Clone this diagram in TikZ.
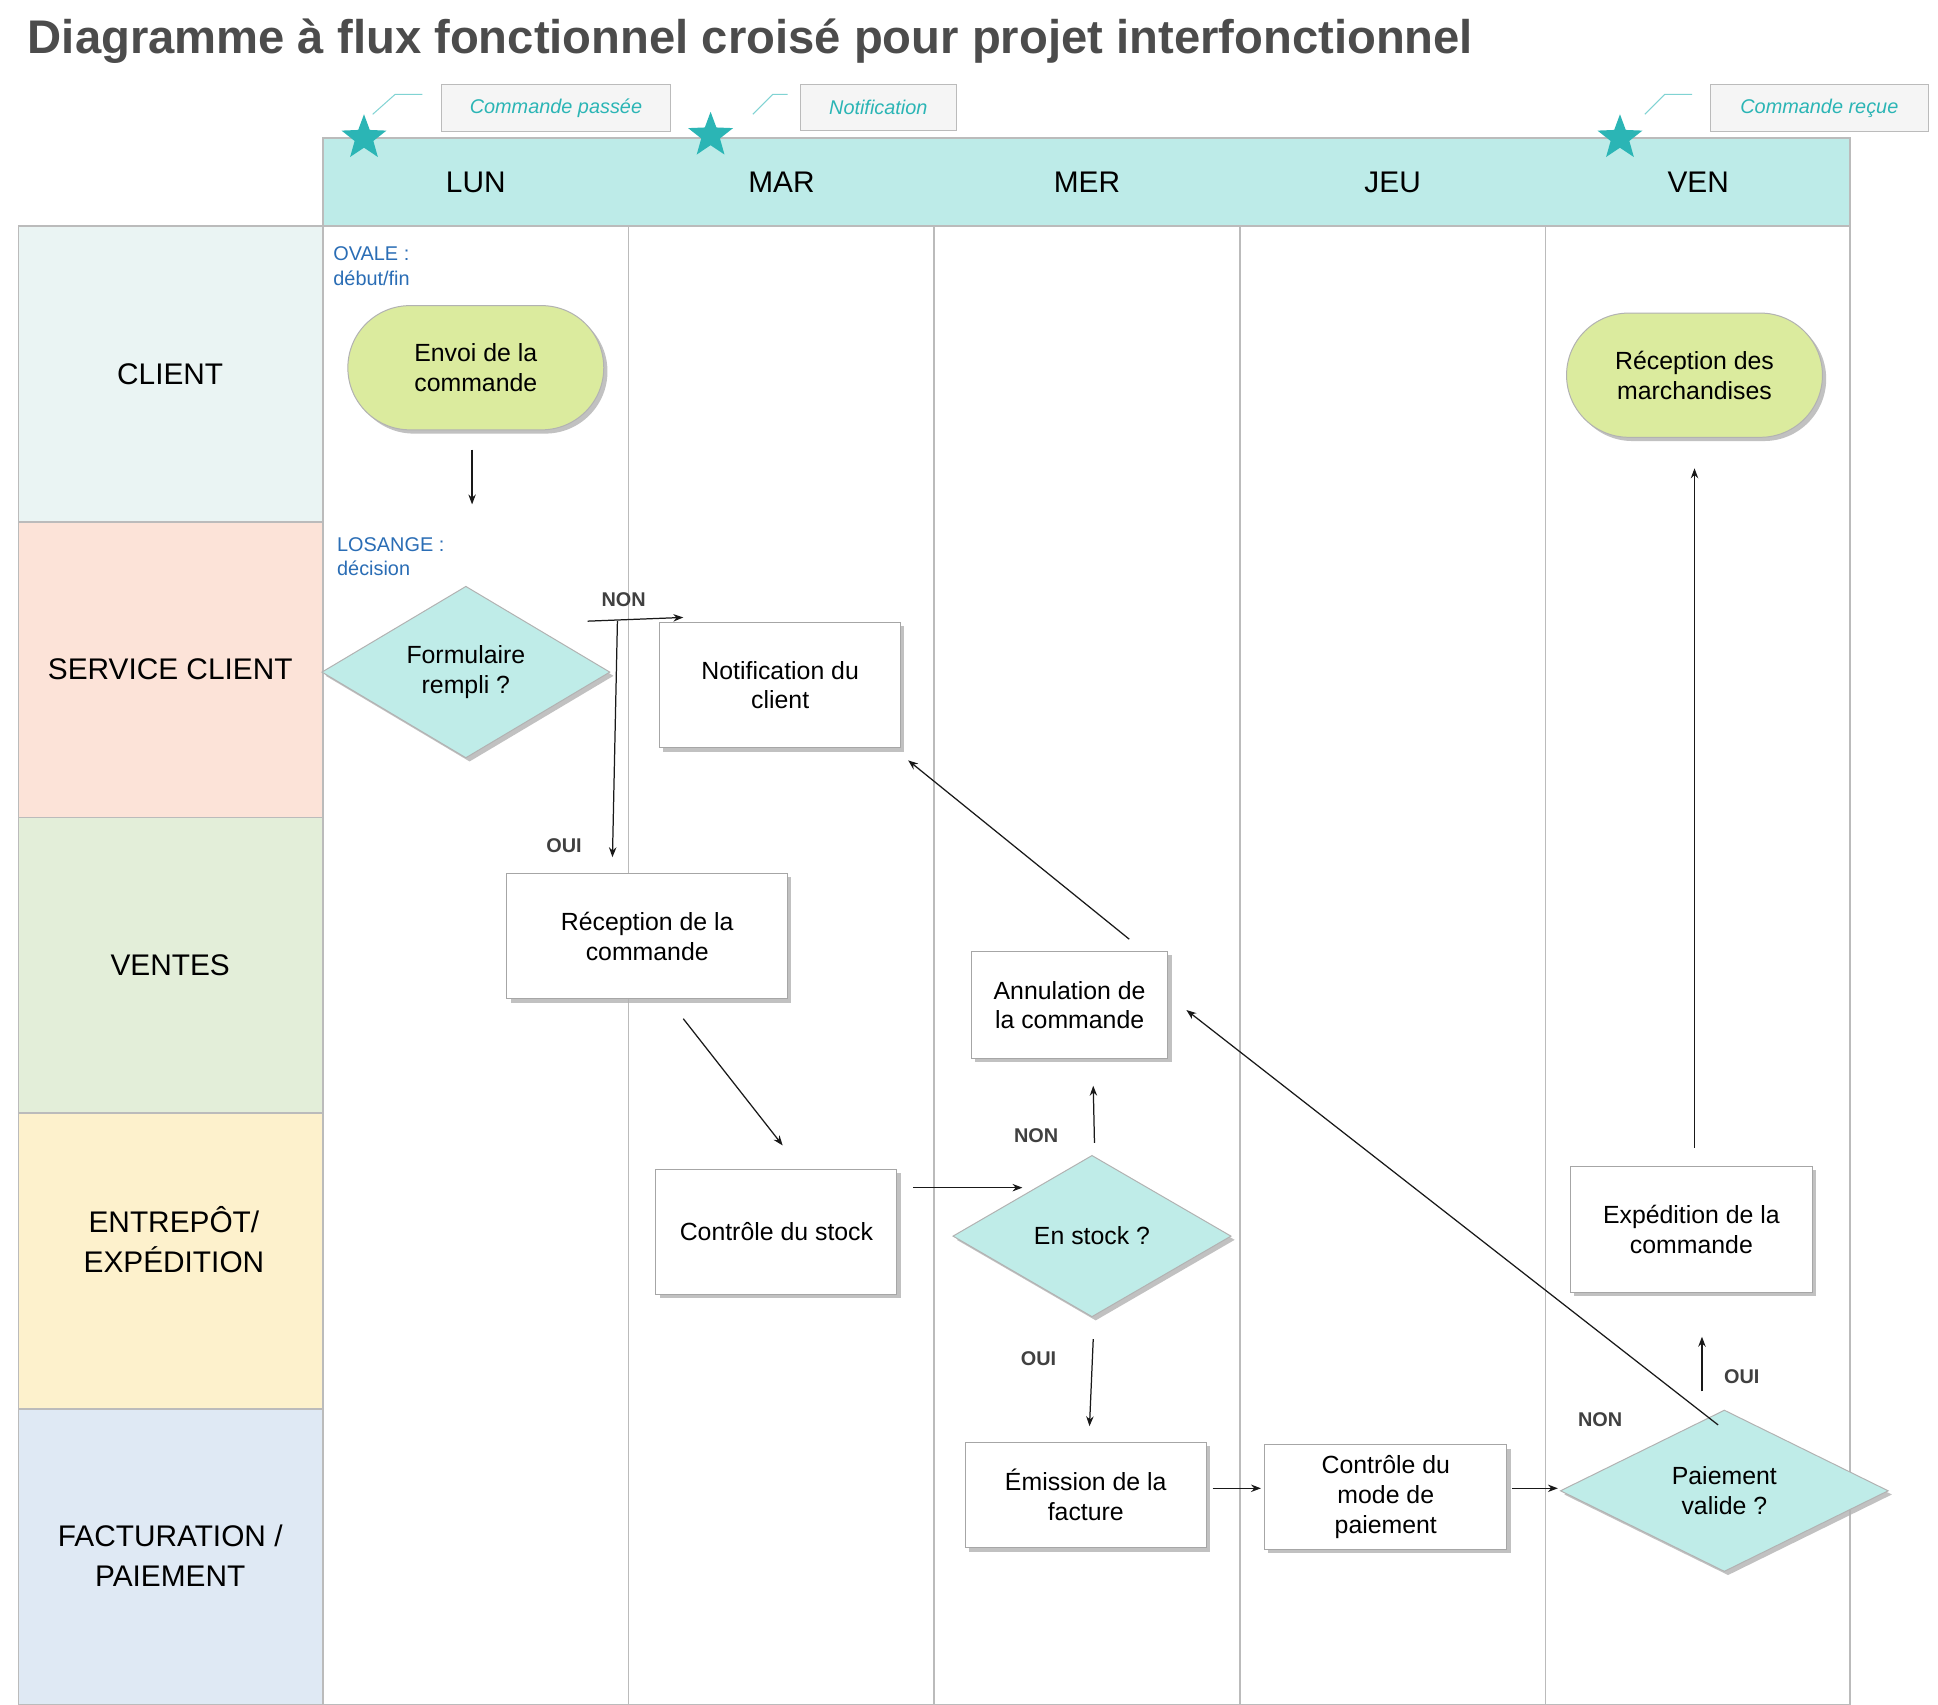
\documentclass[tikz,border=0pt]{standalone}
\usepackage{fontspec}
\setmainfont{Liberation Sans}
\usetikzlibrary{shapes.geometric,shapes.misc,shadows,arrows.meta}
\definecolor{hdr}{HTML}{BDEBE8}
\definecolor{teal}{HTML}{2BB5B5}
\definecolor{cl}{HTML}{EAF4F3}
\definecolor{sc}{HTML}{FCE3D8}
\definecolor{ve}{HTML}{E3EED9}
\definecolor{en}{HTML}{FDF1CC}
\definecolor{fa}{HTML}{DFE9F4}
\definecolor{ov}{HTML}{DBEB9E}
\definecolor{dia}{HTML}{BFECE8}
\definecolor{note}{HTML}{2A6DB5}
\definecolor{grid}{HTML}{BBBBBB}
\begin{document}
\begin{tikzpicture}[x=0.5pt,y=-0.5pt,
  txt/.style={font=\fontsize{10}{12}\selectfont,align=center,text=black},
  lane/.style={draw=grid,line width=0.6pt},
  sh/.style={drop shadow={shadow xshift=1.5pt,shadow yshift=-1.5pt,fill=gray!60,opacity=0.8}},
  box/.style={txt,draw=gray!70,fill=white,sh,inner sep=0pt},
  oval/.style={txt,rounded rectangle,draw=gray!60,fill=ov,sh,minimum width=103pt,minimum height=50pt,inner sep=0pt},
  dmd/.style={txt,diamond,draw=gray!60,fill=dia,sh,inner sep=0pt},
  arr/.style={-{Stealth[length=4pt,width=3pt]},draw=gray!20!black,line width=0.5pt},
  lbl/.style={font=\bfseries\fontsize{8}{10}\selectfont,text=black!75},
  call/.style={draw=grid,fill=gray!8,font=\itshape\fontsize{8}{10}\selectfont,text=teal,inner sep=0pt},
  tstar/.style={star,star points=5,star point ratio=2.4,fill=teal,minimum size=19pt,inner sep=0pt}]
\useasboundingbox (0,0) rectangle (1560,1372);
\fill[white] (0,0) rectangle (1560,1372);
\node[anchor=west,inner sep=0pt,font=\bfseries\fontsize{19}{22}\selectfont,text=black!70] (title) at (22,33) {Diagramme à flux fonctionnel croisé pour projet interfonctionnel};
% header
\fill[hdr] (260,111) rectangle (1489,182);
\draw[grid,line width=0.6pt] (260,111) rectangle (1489,182);
\foreach \n/\x in {LUN/383,MAR/629,MER/875,JEU/1121,VEN/1367}
  \node[font=\fontsize{12}{14}\selectfont] (d\n) at (\x,147) {\n};
% lanes
\foreach \c/\ya/\yb in {cl/182/420,sc/420/658,ve/658/896,en/896/1134,fa/1134/1372}
  \fill[\c] (15,\ya) rectangle (260,\yb);
\draw[lane] (15,182) rectangle (1489,1372);
\foreach \y in {420,658,896,1134} \draw[lane] (15,\y) -- (260,\y);
\foreach \x in {260,506,752,998,1244} \draw[lane] (\x,182) -- (\x,1372);
\node[font=\fontsize{12}{14}\selectfont] (l1) at (137,301) {CLIENT};
\node[font=\fontsize{12}{14}\selectfont] (l2) at (137,539) {SERVICE CLIENT};
\node[font=\fontsize{12}{14}\selectfont] (l3) at (137,777) {VENTES};
\node[font=\fontsize{12}{16}\selectfont,align=center] (l4) at (140,998) {ENTREPÔT/\\EXPÉDITION};
\node[font=\fontsize{12}{16}\selectfont,align=center] (l5) at (137,1252) {FACTURATION /\\PAIEMENT};
% stars and callouts
\node[tstar] (s1) at (293,111) {};
\node[tstar] (s2) at (572,109) {};
\node[tstar] (s3) at (1304,111) {};
\node[call,minimum width=92.5pt,minimum height=19pt] (c1) at (447.5,87) {Commande passée};
\node[call,minimum width=63pt,minimum height=18.5pt] (c2) at (707,86.5) {Notification};
\node[call,minimum width=87.5pt,minimum height=19pt] (c3) at (1464.5,87) {Commande reçue};
\draw[teal!60,line width=0.4pt] (300,92) -- (318,76) -- (340,76);
\draw[teal!60,line width=0.4pt] (606,92) -- (622,76) -- (634,76);
\draw[teal!60,line width=0.4pt] (1324,92) -- (1340,76) -- (1362,76);
% notes
\node[anchor=north west,align=left,text=note,font=\fontsize{8}{10}\selectfont,inner sep=0pt] (n1) at (268,198) {OVALE :\\début/fin};
\node[anchor=north west,align=left,text=note,font=\fontsize{8}{10}\selectfont,inner sep=0pt] (n2) at (271,432) {LOSANGE :\\décision};
% nodes
\node[oval] (envoi) at (383,296) {Envoi de la\\commande};
\node[oval] (recm) at (1364,302) {Réception des\\marchandises};
\node[dmd,minimum width=116pt,minimum height=65pt] (form) at (375,541) {Formulaire\\rempli ?};
\node[box,minimum width=97pt,minimum height=50.5pt] (notif) at (628,551.5) {Notification du\\client};
\node[box,minimum width=113pt,minimum height=50.5pt] (recc) at (521,753.5) {Réception de la\\commande};
\node[box,minimum width=79pt,minimum height=43pt] (annul) at (861,809) {Annulation de\\la commande};
\node[box,minimum width=97pt,minimum height=50.5pt] (stock) at (625,991.5) {Contrôle du stock};
\node[dmd,minimum width=112pt,minimum height=65pt] (enst) at (879,995) {En stock ?};
\node[box,minimum width=97.5pt,minimum height=50.5pt] (exped) at (1361.5,989.5) {Expédition de la\\commande};
\node[box,minimum width=97pt,minimum height=42.5pt] (emis) at (874,1203.5) {Émission de la\\facture};
\node[box,minimum width=97.5pt,minimum height=42pt] (mode) at (1115.5,1205) {Contrôle du\\mode de\\paiement};
\node[dmd,minimum width=132pt,minimum height=65pt] (paie) at (1388,1200) {Paiement\\valide ?};
% connector endpoints
\coordinate (a1) at (380,362); \coordinate (a2) at (380,406);
\coordinate (b1) at (473,500); \coordinate (b2) at (550,497);
\coordinate (b3) at (497,500); \coordinate (b4) at (493,690);
\coordinate (e1) at (550,820); \coordinate (e2) at (630,922);
\coordinate (f1) at (735,956); \coordinate (f2) at (823,956);
\coordinate (g1) at (881,920); \coordinate (g2) at (880,874);
\coordinate (h1) at (880,1078); \coordinate (h2) at (877,1148);
\coordinate (i1) at (909,756); \coordinate (i2) at (731,612);
\coordinate (j1) at (976,1198); \coordinate (j2) at (1015,1198);
\coordinate (k1) at (1217,1198); \coordinate (k2) at (1254,1198);
\coordinate (m1) at (1383,1147); \coordinate (m2) at (955,813);
\coordinate (o1) at (1370,1120); \coordinate (o2) at (1370,1076);
\coordinate (p1) at (1364,924); \coordinate (p2) at (1364,377);
\foreach \u/\v in {a1/a2,b1/b2,b3/b4,e1/e2,f1/f2,g1/g2,h1/h2,i1/i2,j1/j2,k1/k2,m1/m2,o1/o2,p1/p2}
  \draw[arr] (\u) -- (\v);
\node[lbl] (t1) at (502,483) {NON};
\node[lbl] (t2) at (454,681) {OUI};
\node[lbl] (t3) at (834,914) {NON};
\node[lbl] (t4) at (836,1094) {OUI};
\node[lbl] (t5) at (1402,1108) {OUI};
\node[lbl] (t6) at (1288,1143) {NON};
\end{tikzpicture}
\end{document}
